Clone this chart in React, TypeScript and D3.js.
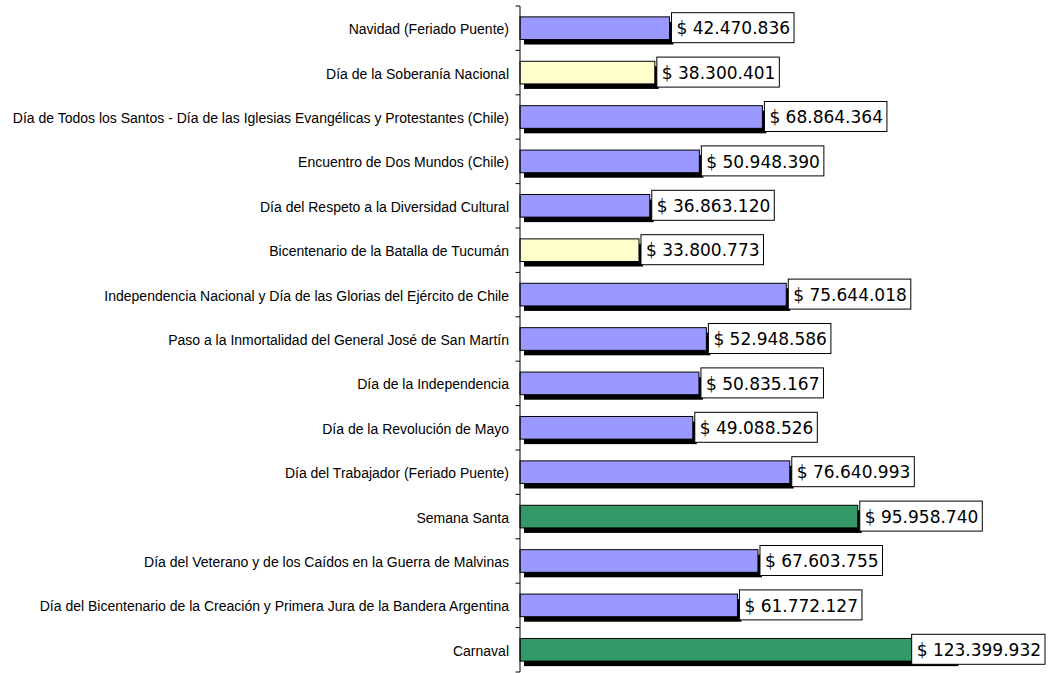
import React from "react";
import * as d3 from "d3";

const categories = [
  "Navidad (Feriado Puente)",
  "Día de la Soberanía Nacional",
  "Día de Todos los Santos - Día de las Iglesias Evangélicas y Protestantes (Chile)",
  "Encuentro de Dos Mundos (Chile)",
  "Día del Respeto a la Diversidad Cultural",
  "Bicentenario de la Batalla de Tucumán",
  "Independencia Nacional y Día de las Glorias del Ejército de Chile",
  "Paso a la Inmortalidad del General José de San Martín",
  "Día de la Independencia",
  "Día de la Revolución de Mayo",
  "Día del Trabajador (Feriado Puente)",
  "Semana Santa",
  "Día del Veterano y de los Caídos en la Guerra de Malvinas",
  "Día del Bicentenario de la Creación y Primera Jura de la Bandera Argentina",
  "Carnaval",
];

const values = [
  42470836, 38300401, 68864364, 50948390, 36863120, 33800773, 75644018,
  52948586, 50835167, 49088526, 76640993, 95958740, 67603755, 61772127,
  123399932,
];

// color group: 0 = blue, 1 = yellow, 2 = green
const groups = [0, 1, 0, 0, 0, 1, 0, 0, 0, 0, 0, 2, 0, 0, 2];
const groupColors = ["#9999FF", "#FFFFCC", "#339966"];

const W = 1049;
const H = 673;

const fmt = (v: number) =>
  "$ " + d3.format(",")(v).replace(/,/g, ".");

export default function App() {
  const x = d3.scaleLinear().domain([0, 140e6]).range([520, 520 + 492.8]);
  const y = d3.scaleBand<string>().domain(categories).range([6, 672]).paddingInner(0.49).paddingOuter(0.245);
  const band = (672 - 6) / categories.length;
  const labelFont = 17;
  const charW = (s: string) => {
    let w = 0;
    for (const c of s) {
      if (c === "." ) w += 0.318;
      else if (c === " ") w += 0.318;
      else w += 0.636;
    }
    return w * labelFont;
  };

  return (
    <svg width={W} height={H} style={{ position: "absolute", left: 0, top: 0 }}>
      <rect x={0} y={0} width={W} height={H} fill="#fff" />
      {/* shadows */}
      {categories.map((c, i) => (
        <rect key={"s" + i} x={x(0) + 4} y={(y(c) as number) + 5} width={x(values[i]) - x(0)} height={y.bandwidth()} fill="#000" />
      ))}
      {categories.map((c, i) => (
        <rect key={"b" + i} x={x(0)} y={y(c) as number} width={x(values[i]) - x(0)} height={y.bandwidth()} fill={groupColors[groups[i]]} stroke="#000" strokeWidth={1} />
      ))}
      {/* axis */}
      <line x1={520} x2={520} y1={6} y2={672} stroke="#000" strokeWidth={1} />
      {d3.range(categories.length + 1).map((i) => (
        <line key={"t" + i} x1={515.5} x2={520} y1={6 + i * band} y2={6 + i * band} stroke="#000" strokeWidth={1} />
      ))}
      {categories.map((c, i) => (
        <text key={"l" + i} x={509} y={(y(c) as number) + y.bandwidth() / 2 + 1} dy="0.35em" textAnchor="end" fontFamily="Liberation Sans, Arial, sans-serif" fontSize={14} fill="#000">
          {c}
        </text>
      ))}
      {/* value labels */}
      {categories.map((c, i) => {
        const t = fmt(values[i]);
        const tw = charW(t);
        const bw = tw + 9;
        let bx = x(values[i]) + 2;
        if (bx + bw > 1045) bx = 1045 - bw;
        const cy = (y(c) as number) + y.bandwidth() / 2;
        return (
          <g key={"v" + i}>
            <rect x={bx} y={cy - 15.5} width={bw} height={30} fill="#fff" stroke="#000" strokeWidth={1} />
            <text x={bx + 5} y={cy} dy="0.36em" fontFamily="DejaVu Sans, Verdana, sans-serif" fontSize={labelFont} fill="#000">
              {t}
            </text>
          </g>
        );
      })}
    </svg>
  );
}
